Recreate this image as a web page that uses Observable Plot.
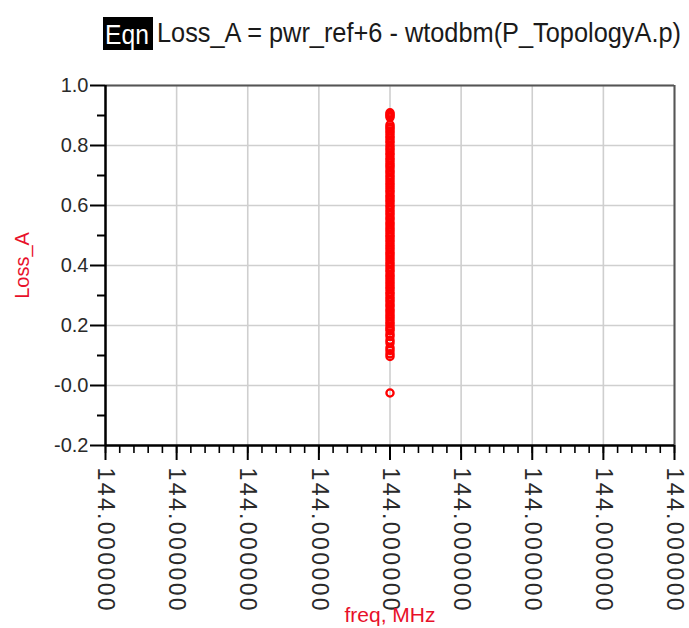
<!DOCTYPE html>
<html>
<head>
<meta charset="utf-8">
<script src="https://cdn.jsdelivr.net/npm/d3@7"></script>
<script src="https://cdn.jsdelivr.net/npm/@observablehq/plot@0.6"></script>
<style>
  html, body { margin: 0; padding: 0; background: #fff; }
  #wrap { width: 689px; height: 628px; position: relative; overflow: hidden; }
  #title { position: relative; height: 68px; font-family: "Liberation Sans", Arial, sans-serif; }
  #eqn { position: absolute; left: 103px; top: 17px; width: 50px; height: 33px; background: #000; }
  #eqn span { position: absolute; left: 2px; top: 4px; color: #fff; font-size: 28px; line-height: 28px; transform: scaleX(0.88); transform-origin: left top; }
  #ttl { position: absolute; left: 157px; top: 19px; font-size: 28px; line-height: 28px; color: #1a1a1a; white-space: nowrap; transform: scaleX(0.905); transform-origin: left top; }
</style>
</head>
<body>
<div id="wrap">
  <div id="title"><div id="eqn"><span>Eqn</span></div><div id="ttl">Loss_A = pwr_ref+6 - wtodbm(P_TopologyA.p)</div></div>
  <div id="chart"></div>
</div>
<script>
// ---- data ----
const titleEqn = "Loss_A = pwr_ref+6 - wtodbm(P_TopologyA.p)";
const xLabel = "freq, MHz";
const yLabel = "Loss_A";
const freqMHz = 144.0;
// x axis ticks (all print as 144.000000)
const xTicks = [143.9999996, 143.9999997, 143.9999998, 143.9999999, 144.0, 144.0000001, 144.0000002, 144.0000003, 144.0000004];
const xMinor = d3.range(41).map(i => 143.9999996 + i * 2e-8);
const yTicks = [-0.2, 0.0, 0.2, 0.4, 0.6, 0.8, 1.0];
const yTickLabels = ["-0.2", "-0.0", "0.2", "0.4", "0.6", "0.8", "1.0"];
const yMinor = [-0.1, 0.1, 0.3, 0.5, 0.7, 0.9];
// Loss_A values
const lossA = [
  0.909, 0.904, 0.899, 0.894, 0.869, 0.862,
  0.856, 0.848, 0.841, 0.832, 0.825, 0.816, 0.809, 0.799, 0.791, 0.784,
  0.775, 0.768, 0.758, 0.751, 0.742, 0.734, 0.727, 0.717, 0.710, 0.701,
  0.693, 0.685, 0.676, 0.668, 0.660, 0.651, 0.644, 0.634, 0.627, 0.618,
  0.611, 0.601, 0.594, 0.585, 0.577, 0.569, 0.560, 0.553, 0.543, 0.536,
  0.527, 0.519, 0.511, 0.502, 0.495, 0.486, 0.478, 0.469, 0.461, 0.453,
  0.444, 0.437, 0.428, 0.420, 0.411, 0.403, 0.395, 0.386, 0.379, 0.369,
  0.362, 0.353, 0.345, 0.337, 0.328, 0.321, 0.311, 0.304, 0.295, 0.287,
  0.279, 0.270, 0.263, 0.253, 0.246, 0.237, 0.229, 0.221, 0.212, 0.205,
  0.196, 0.189, 0.183,
  0.172, 0.164, 0.151, 0.142, 0.126, 0.117, 0.106, 0.097,
  -0.025
];
const points = lossA.map(v => ({freq: freqMHz, loss: v}));

const tickColor = "#000";
const labelColor = "#2a2a2a";

const chart = Plot.plot({
  width: 689,
  height: 560,
  marginTop: 17,
  marginBottom: 183,
  marginLeft: 105,
  marginRight: 15,
  style: {fontFamily: "'Liberation Sans', Arial, sans-serif", fontSize: "20px", color: labelColor, background: "#fff", overflow: "visible"},
  x: {domain: [xTicks[0], xTicks[xTicks.length - 1]]},
  y: {domain: [yTicks[0], yTicks[yTicks.length - 1]]},
  marks: [
    Plot.gridX(xTicks, {stroke: "#cfcfcf", strokeOpacity: 1, strokeWidth: 1.6}),
    Plot.gridY(yTicks, {stroke: "#cfcfcf", strokeOpacity: 1, strokeWidth: 1.6}),
    Plot.ruleY([yTicks[yTicks.length - 1]], {stroke: "#555", strokeWidth: 2}),
    Plot.ruleX([xTicks[xTicks.length - 1]], {stroke: "#555", strokeWidth: 2}),
    Plot.dot(points, {x: "freq", y: "loss", r: 3.6, stroke: "#ff0000", strokeWidth: 2.3, fill: "none"}),
    Plot.ruleX([xTicks[0]], {stroke: tickColor, strokeWidth: 2.5}),
    Plot.ruleY([yTicks[0]], {stroke: tickColor, strokeWidth: 2.5}),
    Plot.axisY(yTicks, {tickSize: 15, tickPadding: 2, stroke: tickColor, strokeWidth: 2, fill: labelColor, fontSize: 20,
      tickFormat: d => yTickLabels[yTicks.indexOf(d)], label: null}),
    Plot.axisY(yMinor, {tickSize: 8, stroke: tickColor, strokeWidth: 2, text: null, label: null}),
    Plot.axisX(xTicks, {tickSize: 15, tickPadding: 7, stroke: tickColor, strokeWidth: 2, fill: labelColor, fontSize: 23, tickRotate: 90,
      tickFormat: d => d.toFixed(6), label: null}),
    Plot.axisX(xMinor, {tickSize: 8, stroke: tickColor, strokeWidth: 1.6, text: null, label: null}),
    Plot.text([yLabel], {frameAnchor: "left", dx: -83, rotate: -90, textAnchor: "middle", fill: "#e8102a", fontSize: 20}),
    Plot.text([xLabel], {frameAnchor: "bottom", dy: 176, fill: "#e8102a", fontSize: 21})
  ]
});
document.getElementById("chart").appendChild(chart);
d3.select(chart).selectAll("text").filter(function() { return this.textContent === "144.000000"; }).attr("letter-spacing", "2.4");
</script>
</body>
</html>
